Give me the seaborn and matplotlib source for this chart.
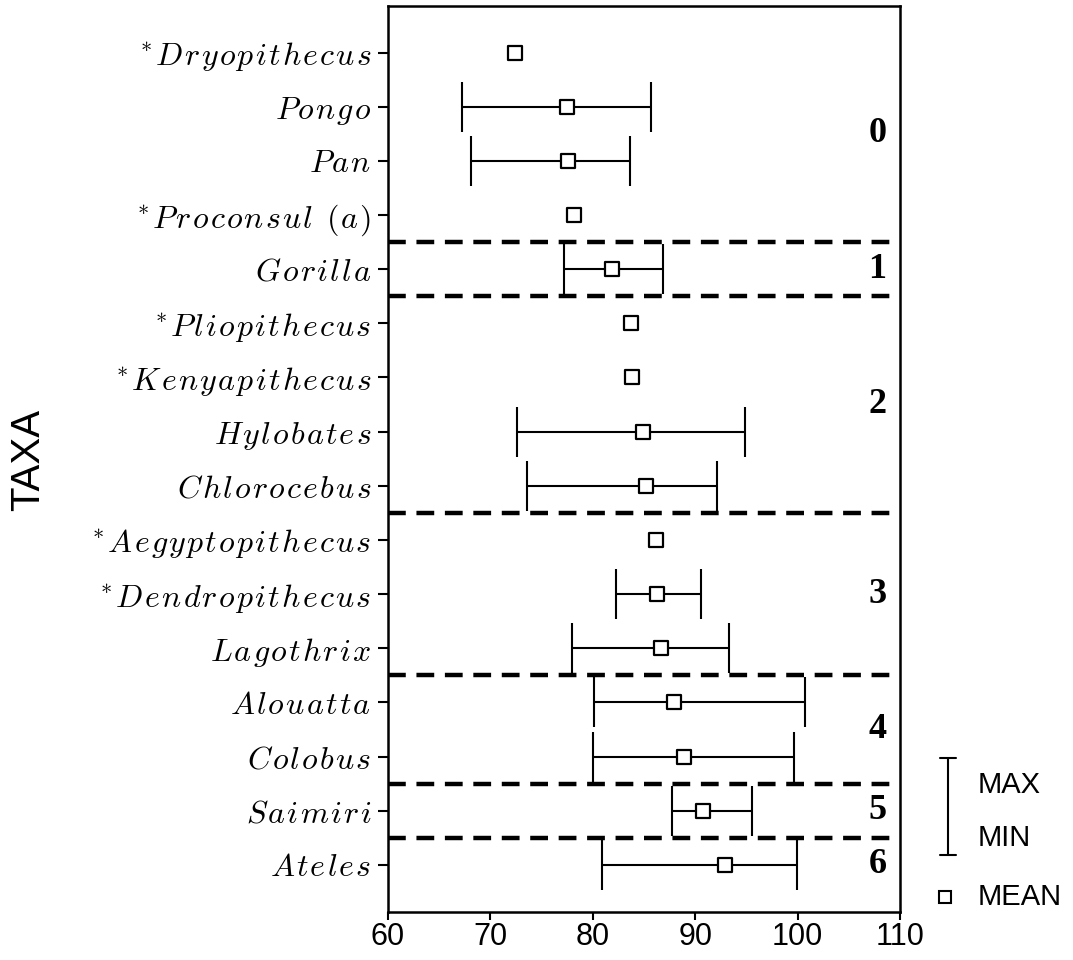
import numpy as np
import pandas as pd
import matplotlib
matplotlib.use("Agg")
import matplotlib.pyplot as plt
from matplotlib.lines import Line2D
import seaborn as sns

# data
taxa = ["*Dryopithecus", "Pongo", "Pan", "*Proconsul (a)", "Gorilla",
        "*Pliopithecus", "*Kenyapithecus", "Hylobates", "Chlorocebus",
        "*Aegyptopithecus", "*Dendropithecus", "Lagothrix", "Alouatta",
        "Colobus", "Saimiri", "Ateles"]
means = [72.4, 77.5, 77.6, 78.2, 81.9, 83.7, 83.8, 84.9, 85.2, 86.2,
         86.3, 86.7, 87.9, 88.9, 90.8, 92.9]
mins = [np.nan, 67.2, 68.1, np.nan, 77.2, np.nan, np.nan, 72.6, 73.6,
        np.nan, 82.3, 78.0, 80.1, 80.0, 87.7, 80.9]
maxs = [np.nan, 85.7, 83.6, np.nan, 86.9, np.nan, np.nan, 94.9, 92.1,
        np.nan, 90.6, 93.3, 100.7, 99.6, 95.5, 99.9]
groups = [0, 0, 0, 0, 1, 2, 2, 2, 2, 3, 3, 3, 4, 4, 5, 6]
xticks = [60, 70, 80, 90, 100, 110]

sns.set_theme(style="ticks")
plt.rcParams['font.family'] = ['Liberation Sans', 'DejaVu Sans']
plt.rcParams['mathtext.fontset'] = 'cm'
plt.rcParams['text.color'] = 'black'
plt.rcParams['xtick.color'] = 'black'
plt.rcParams['ytick.color'] = 'black'
plt.rcParams['xtick.labelcolor'] = 'black'
plt.rcParams['ytick.labelcolor'] = 'black'

df = pd.DataFrame({"taxon": taxa, "mean": means, "min": mins,
                   "max": maxs, "group": groups})
df["pos"] = np.arange(len(df))

def math_label(name):
    # spaced-out math italic, like the old typeset labels
    star = name.startswith("*")
    name = name.lstrip("*")
    parts = [r"\ " if c == " " else c for c in name]
    body = r"\hspace{0.08}".join(parts)
    return (r"$^{*}\hspace{0.08}" if star else "$") + body + "$"

fig = plt.figure(figsize=(10.73, 9.6), dpi=100)
ax = fig.add_axes([388 / 1073, 48 / 960, 512 / 1073, 906 / 960])

# ranges
ax.errorbar(df["mean"], df["pos"],
            xerr=[df["mean"] - df["min"], df["max"] - df["mean"]],
            fmt="none", ecolor="black", elinewidth=1.5, capsize=18,
            capthick=1.5, zorder=2)

# means
sns.scatterplot(data=df, x="mean", y="pos", marker="s", s=110,
                color="white", edgecolor="black", linewidth=1.6,
                zorder=3, ax=ax, legend=False)

# group separators and group numbers
for i in range(1, len(groups)):
    if groups[i] != groups[i - 1]:
        ax.axhline(i - 0.5, color="black", lw=3.2, dashes=(4, 2.4),
                   zorder=1)
for g, sub in df.groupby("group"):
    ax.text(107.8, sub["pos"].mean(), str(g), ha="center", va="center",
            fontfamily="Liberation Serif", fontweight="bold", fontsize=26,
            color="black")

ax.set_xlim(60, 110)
ax.set_ylim(15.87, -0.86)
ax.set_xticks(xticks)
ax.set_xticklabels([str(t) for t in xticks], fontsize=22)
ax.set_yticks(df["pos"])
ax.set_yticklabels([math_label(t) for t in taxa], fontsize=23)
ax.set_xlabel("")
ax.set_ylabel("")
ax.tick_params(axis="x", length=6, width=1.5, pad=1, color="black")
ax.tick_params(axis="y", length=7, width=1.5, pad=5, color="black")
for sp in ax.spines.values():
    sp.set_linewidth(1.8)
    sp.set_color("black")

fig.text(28 / 1073, 1 - 460 / 960, "TAXA", rotation=90, ha="center",
         va="center", fontsize=29, color="black")

# legend key drawn beside the axes
tf = fig.transFigure
lx = 948 / 1073
ytop, ybot = 1 - 758 / 960, 1 - 855 / 960
cw = 8 / 1073
fig.add_artist(Line2D([lx, lx], [ybot, ytop], transform=tf, color="black", lw=1.5))
fig.add_artist(Line2D([lx - cw, lx + cw], [ytop, ytop], transform=tf, color="black", lw=1.5))
fig.add_artist(Line2D([lx - cw, lx + cw], [ybot, ybot], transform=tf, color="black", lw=1.5))
fig.add_artist(Line2D([945 / 1073], [1 - 897 / 960], transform=tf, marker="s",
                      markersize=8.5, markerfacecolor="white",
                      markeredgecolor="black", markeredgewidth=1.5, lw=0))
tx = 978 / 1073
fig.text(tx, 1 - 785 / 960, "MAX", ha="left", va="center", fontsize=21, color="black")
fig.text(tx, 1 - 838 / 960, "MIN", ha="left", va="center", fontsize=21, color="black")
fig.text(tx, 1 - 897 / 960, "MEAN", ha="left", va="center", fontsize=21, color="black")

fig.savefig("out.png", dpi=100)
